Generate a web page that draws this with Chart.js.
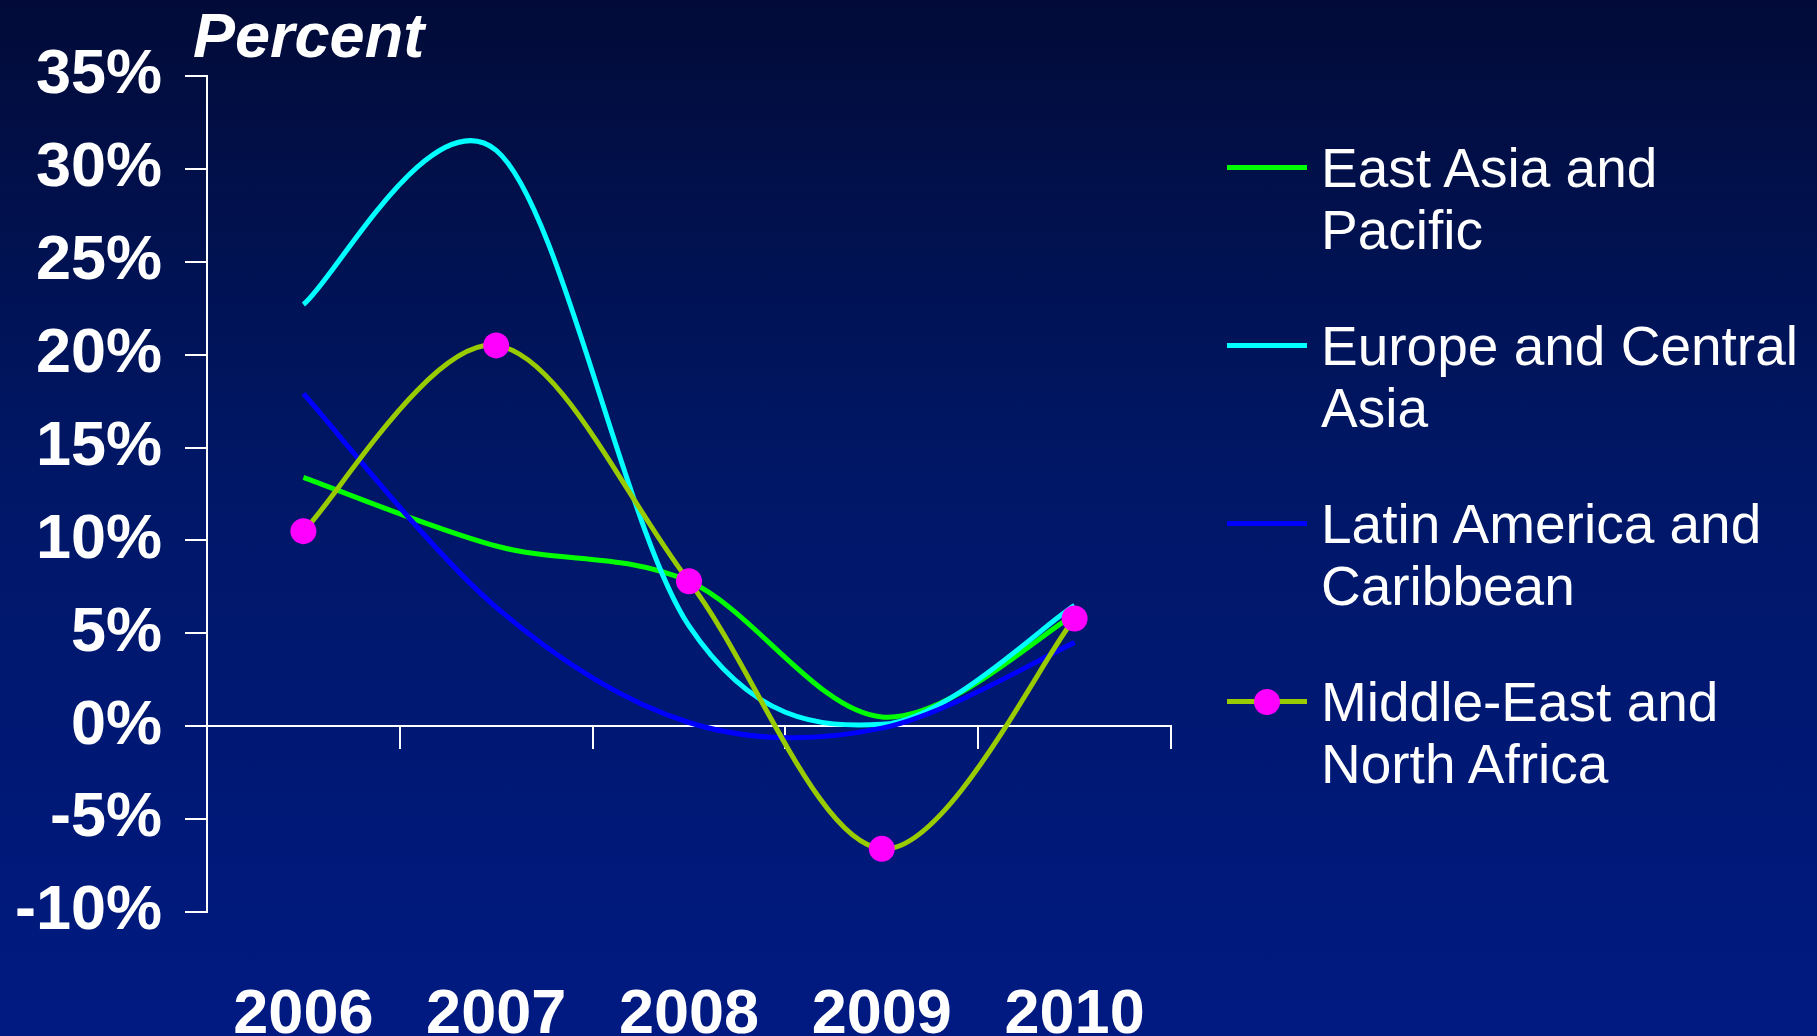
<!DOCTYPE html>
<html>
<head>
<meta charset="utf-8">
<title>Growth by region, 2006-2010</title>
<script src="https://cdn.jsdelivr.net/npm/chart.js@4.4.1/dist/chart.umd.min.js"></script>
<style>
  html, body {
    margin: 0;
    padding: 0;
  }
  body {
    width: 1817px;
    height: 1036px;
    overflow: hidden;
    position: relative;
    background: linear-gradient(to bottom, #020b38 0%, #001766 45%, #001a82 100%);
    font-family: "Liberation Sans", Arial, sans-serif;
    color: #fff;
  }
  #wrap {
    position: absolute;
    left: 0;
    top: 0;
    width: 1817px;
    height: 1036px;
  }
  #unit {
    position: absolute;
    left: 193px;
    top: 4px;
    font: italic bold 63px/63px "Liberation Sans", Arial, sans-serif;
  }
  #legend {
    position: absolute;
    left: 1227px;
    top: 137px;
  }
  .item {
    position: relative;
    height: 178px;
  }
  .swatch {
    position: absolute;
    left: 0;
    top: 28px;
    width: 80px;
    height: 5px;
  }
  .dot {
    position: absolute;
    left: 27px;
    top: 18px;
    width: 26px;
    height: 26px;
    border-radius: 50%;
  }
  .name {
    margin-left: 94px;
    width: 490px;
    font-size: 55px;
    line-height: 62px;
  }
</style>
</head>
<body>
<div id="wrap"><canvas id="chart"></canvas></div>
<div id="unit">Percent</div>
<div id="legend"></div>
<script>
const years = ['2006', '2007', '2008', '2009', '2010'];
const yTicks = { min: -10, max: 35, step: 5 };

const seriesNames = [
  'East Asia and Pacific',
  'Europe and Central Asia',
  'Latin America and Caribbean',
  'Middle-East and North Africa'
];
const eastAsia = [13.4, 9.7, 7.8, 0.5, 6.0];
const europeCentralAsia = [22.7, 31.0, 5.4, 0.1, 6.5];
const latinAmerica = [17.9, 6.4, 0.2, -0.1, 4.5];
const middleEast = [10.5, 20.5, 7.8, -6.6, 5.8];

const white = '#ffffff';
const tickFont = { family: '"Liberation Sans", Arial, sans-serif', size: 63, weight: 'bold' };

function line(label, data, color, order) {
  return {
    label: label,
    data: data,
    borderColor: color,
    backgroundColor: color,
    borderWidth: 5,
    tension: 0.33,
    pointRadius: 0,
    pointHoverRadius: 0,
    order: order
  };
}

const middleEastSet = line(seriesNames[3], middleEast, '#99cc00', 1);
middleEastSet.pointRadius = 13;
middleEastSet.pointBackgroundColor = '#ff00ff';
middleEastSet.pointBorderWidth = 0;

// Smooth the lines the way spreadsheet "smoothed line" charts do:
// uniform Catmull-Rom tangents instead of Chart.js's distance-weighted ones.
const catmullRom = {
  id: 'catmullRom',
  beforeDatasetsDraw(chart) {
    chart.getSortedVisibleDatasetMetas().forEach((meta) => {
      const lineEl = meta.dataset;
      const pts = meta.data;
      if (!lineEl || pts.length < 2) return;
      if (typeof lineEl.updateControlPoints === 'function') {
        lineEl.updateControlPoints(chart.chartArea, 'x');
      }
      for (let i = 0; i < pts.length; i++) {
        const prev = pts[Math.max(i - 1, 0)];
        const next = pts[Math.min(i + 1, pts.length - 1)];
        const dx = (next.x - prev.x) / 6;
        const dy = (next.y - prev.y) / 6;
        pts[i].cp1x = pts[i].x - dx;
        pts[i].cp1y = pts[i].y - dy;
        pts[i].cp2x = pts[i].x + dx;
        pts[i].cp2y = pts[i].y + dy;
      }
      lineEl._pointsUpdated = true;
      lineEl._path = undefined;
    });
  }
};

const chart = new Chart(document.getElementById('chart'), {
  type: 'line',
  data: {
    labels: years,
    datasets: [
      line(seriesNames[0], eastAsia, '#00ff00', 4),
      line(seriesNames[1], europeCentralAsia, '#00ffff', 3),
      line(seriesNames[2], latinAmerica, '#0000ff', 2),
      middleEastSet
    ]
  },
  plugins: [catmullRom],
  options: {
    responsive: true,
    maintainAspectRatio: false,
    animation: false,
    layout: { padding: { left: 0, top: 76, right: 646, bottom: 0 } },
    plugins: {
      legend: { display: false },
      tooltip: { enabled: false }
    },
    scales: {
      // year labels along the bottom
      x: {
        offset: true,
        grid: { display: false },
        border: { display: false },
        ticks: { color: white, font: tickFont, padding: 58, maxRotation: 0 },
        afterFit: (scale) => { scale.height = 124; }
      },
      // axis line through 0% with tick marks hanging below it
      xz: {
        type: 'category',
        position: { y: 0 },
        offset: true,
        grid: {
          offset: true,
          drawOnChartArea: false,
          drawTicks: true,
          tickLength: 22,
          color: white,
          lineWidth: 2
        },
        border: { display: true, color: white, width: 2 },
        ticks: { display: false },
        afterFit: (scale) => { scale.height = 0; }
      },
      y: {
        min: yTicks.min,
        max: yTicks.max,
        ticks: {
          stepSize: yTicks.step,
          color: white,
          font: tickFont,
          padding: 23,
          callback: (v) => v + '%'
        },
        grid: {
          drawOnChartArea: false,
          drawTicks: true,
          tickLength: 22,
          color: white,
          lineWidth: 2
        },
        border: { display: true, color: white, width: 2 },
        afterFit: (scale) => { scale.width = 207; }
      }
    }
  }
});

// legend on the right, built from the chart's datasets
const legend = document.getElementById('legend');
chart.data.datasets.forEach((ds) => {
  const item = document.createElement('div');
  item.className = 'item';
  const swatch = document.createElement('div');
  swatch.className = 'swatch';
  swatch.style.background = ds.borderColor;
  item.appendChild(swatch);
  if (ds.pointRadius > 0) {
    const dot = document.createElement('div');
    dot.className = 'dot';
    dot.style.background = ds.pointBackgroundColor;
    item.appendChild(dot);
  }
  const name = document.createElement('div');
  name.className = 'name';
  name.textContent = ds.label;
  item.appendChild(name);
  legend.appendChild(item);
});
</script>
</body>
</html>
